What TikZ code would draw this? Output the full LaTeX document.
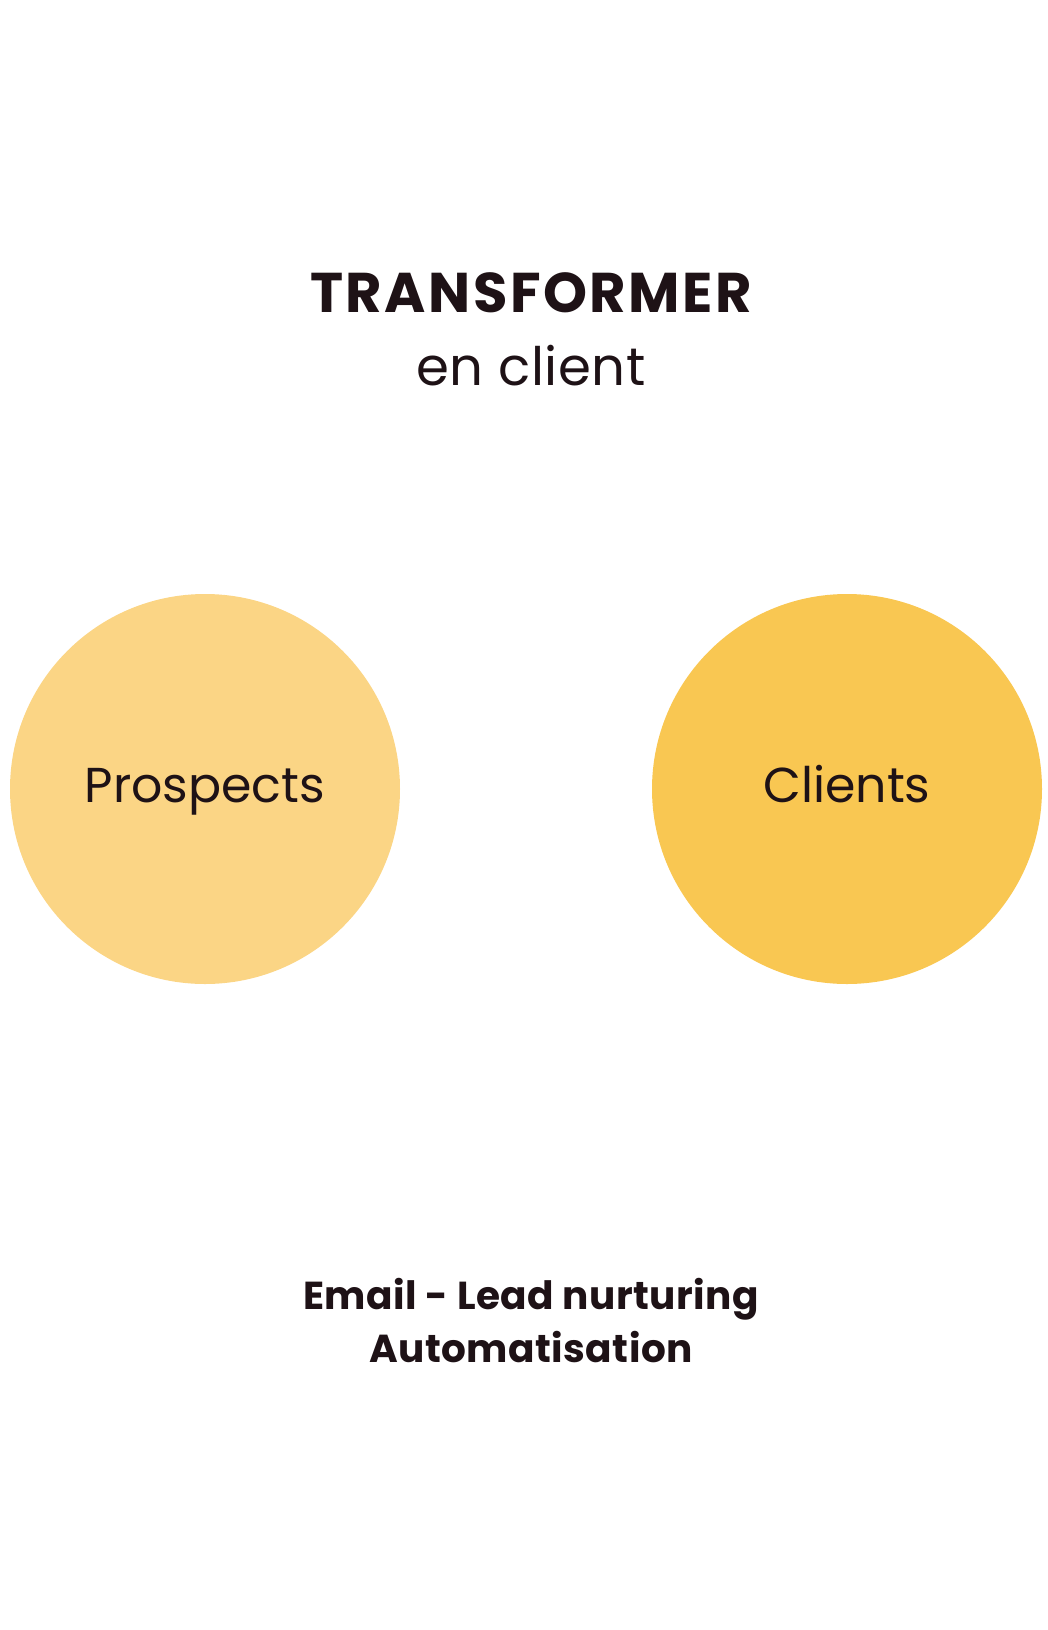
\documentclass[tikz,border=0pt]{standalone}
\usepackage{fontspec}
\setmainfont{Poppins}
\definecolor{prosp}{HTML}{FBD585}
\definecolor{clie}{HTML}{F9C752}
\definecolor{ink}{HTML}{1E1216}
\begin{document}
\begin{tikzpicture}[x=1pt,y=-1pt,
  txt/.style={anchor=base,inner sep=0pt,text=ink},
  bubble/.style={circle,minimum size=390pt,inner sep=0pt}]
\useasboundingbox (0,0) rectangle (1048,1630);
\node[bubble,fill=prosp] (p) at (205,789) {};
\node[bubble,fill=clie] (c) at (847,789) {};
\node[txt,font=\fontsize{49}{55}\selectfont] (pt) at (205,802) {Prospects};
\node[txt,font=\fontsize{49}{55}\selectfont] (ct) at (847,802) {Clients};
\node[txt,font=\bfseries\fontsize{56}{60}\selectfont\addfontfeatures{LetterSpace=4.5}] (t1) at (531,312) {TRANSFORMER};
\node[txt,font=\fontsize{53}{60}\selectfont\addfontfeatures{LetterSpace=1}] (t2) at (531,385) {en client};
\node[txt,font=\bfseries\fontsize{39}{44}\selectfont\addfontfeatures{LetterSpace=1.2}] (b1) at (531,1309) {Email - Lead nurturing};
\node[txt,font=\bfseries\fontsize{39}{44}\selectfont\addfontfeatures{LetterSpace=1.2}] (b2) at (531,1362) {Automatisation};
\end{tikzpicture}
\end{document}
